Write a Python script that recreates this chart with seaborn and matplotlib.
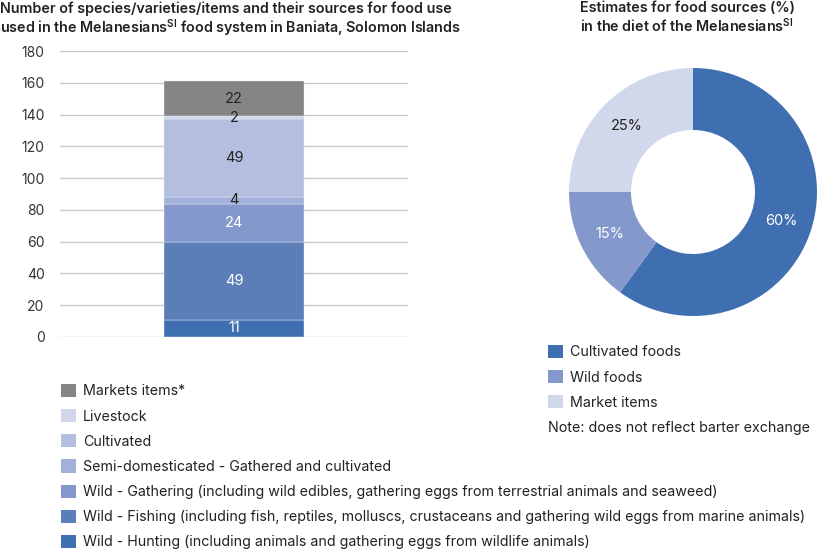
import matplotlib
matplotlib.use("Agg")
import matplotlib.pyplot as plt
from matplotlib.patches import Patch
import seaborn as sns

# stacked bar, bottom to top
sources = [
    "Wild - Hunting (including animals and gathering eggs from wildlife animals)",
    "Wild - Fishing (including fish, reptiles, molluscs, crustaceans and gathering wild eggs from marine animals)",
    "Wild - Gathering (including wild edibles, gathering eggs from terrestrial animals and seaweed)",
    "Semi-domesticated - Gathered and cultivated",
    "Cultivated",
    "Livestock",
    "Markets items*",
]
counts = [11, 49, 24, 4, 49, 2, 22]
yticks = [0, 20, 40, 60, 80, 100, 120, 140, 160, 180]

# donut
diet_sources = ["Cultivated foods", "Wild foods", "Market items"]
diet_share = [60, 15, 25]

bar_colors = ["#3f6fb0", "#5b7db8", "#8598cb", "#a2b1d9", "#b4bfe0", "#d2d8ec", "#858585"]
bar_text = ["white", "white", "white", "#222222", "#222222", "#222222", "#222222"]
pie_colors = ["#3f6fb0", "#8598cb", "#d2d8ec"]
pie_text = ["white", "white", "#222222"]

sns.set_theme(style="white")
plt.rcParams["font.family"] = ["Inter", "DejaVu Sans"]
plt.rcParams["text.color"] = "#222222"

fig = plt.figure(figsize=(8.18, 5.52), dpi=100)
W, H = 818, 552
FS = 10.25

# ---- bar chart
ax = fig.add_axes([60 / W, (H - 337) / H, 348 / W, 286 / H])
bottom = 0
for name, n, c, tc in zip(sources, counts, bar_colors, bar_text):
    sns.barplot(x=[0], y=[n], bottom=bottom, color=c, saturation=1,
                width=0.405, ax=ax, edgecolor="#e8ecf5", linewidth=0.3)
    ax.text(0, bottom + n / 2, str(n), ha="center", va="center",
            fontsize=10.5, color=tc)
    bottom += n

ax.set_xlim(-0.5, 0.5)
ax.set_ylim(0, 180)
ax.set_yticks(yticks)
ax.set_xticks([])
ax.set_xlabel("")
ax.set_ylabel("")
ax.tick_params(axis="y", length=0, pad=11, labelsize=10, labelcolor="#333333")
ax.yaxis.grid(True, color="#c8c8c8", linewidth=1)
ax.set_axisbelow(True)
sns.despine(ax=ax, left=True, bottom=True)

fig.text(0 / W, 1 - 1 / H,
         "Number of species/varieties/items and their sources for food use\n"
         "used in the Melanesians$^{\\mathregular{SI}}$ food system in Baniata, Solomon Islands",
         ha="left", va="top", fontsize=10.3, fontweight="semibold", linespacing=1.12)

handles = [Patch(facecolor=c, edgecolor="none") for c in bar_colors[::-1]]
fig.legend(handles, sources[::-1], loc="upper left",
           bbox_to_anchor=(61 / W, 1 - 384 / H), frameon=False, fontsize=FS,
           handlelength=1.05, handleheight=1.05, handletextpad=0.5,
           labelspacing=0.75, borderpad=0, borderaxespad=0)

# ---- donut
R = 124
ax2 = fig.add_axes([(693 - R) / W, (H - 192 - R) / H, 2 * R / W, 2 * R / H])
wedges, texts, autotexts = ax2.pie(
    diet_share, colors=pie_colors, startangle=90, counterclock=False,
    radius=1, autopct="%d%%", pctdistance=0.75,
    wedgeprops=dict(width=0.5, edgecolor="none"))
for t, tc in zip(autotexts, pie_text):
    t.set_color(tc)
    t.set_fontsize(10.5)
ax2.set_xlim(-1, 1)
ax2.set_ylim(-1, 1)
ax2.set_aspect("equal")

fig.text(687 / W, 1 - 1 / H,
         "Estimates for food sources (%)\n"
         "in the diet of the Melanesians$^{\\mathregular{SI}}$",
         ha="center", va="top", fontsize=10.3, fontweight="semibold", linespacing=1.12)

h2 = [Patch(facecolor=c, edgecolor="none") for c in pie_colors]
fig.legend(h2, diet_sources, loc="upper left",
           bbox_to_anchor=(548 / W, 1 - 345 / H), frameon=False, fontsize=FS,
           handlelength=1.05, handleheight=1.05, handletextpad=0.5,
           labelspacing=0.75, borderpad=0, borderaxespad=0)
fig.text(548 / W, 1 - 428 / H, "Note: does not reflect barter exchange",
         ha="left", va="center", fontsize=FS)

fig.savefig("out.png", dpi=100)
